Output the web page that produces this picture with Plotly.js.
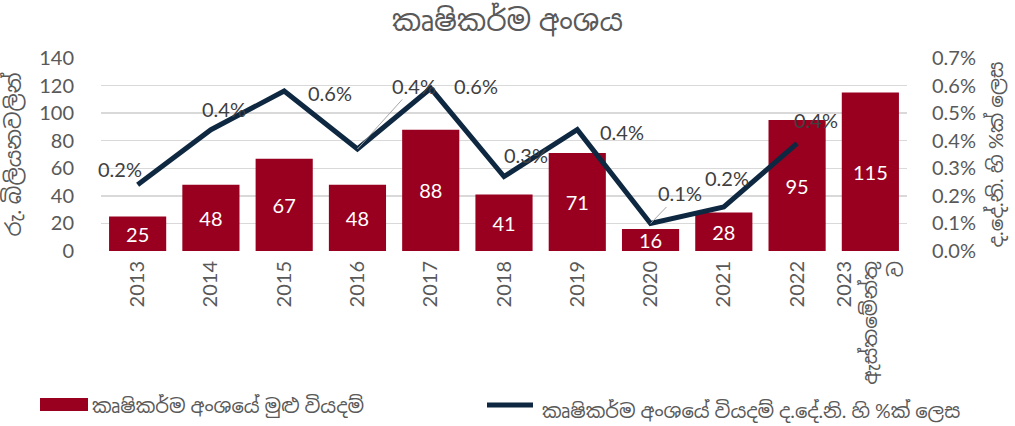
<!DOCTYPE html>
<html>
<head>
<meta charset="utf-8">
<script src="https://cdn.plot.ly/plotly-3.0.1.min.js"></script>
<style>html,body{margin:0;padding:0;background:#fff;}#chart{width:1015px;height:426px;}</style>
</head>
<body>
<div id="chart"></div>
<script>
// ---- data ----
const categories = ['2013','2014','2015','2016','2017','2018','2019','2020','2021','2022','2023<br>ඇස්තමේන්තු<br>ව'];
const spending = [25, 48, 67, 48, 88, 41, 71, 16, 28, 95, 115];           // Rs. billion
const shareOfGDP = [0.0024, 0.0044, 0.0058, 0.0037, 0.0059, 0.0027, 0.0044, 0.0010, 0.0016, 0.0039, null]; // % of GDP
const titleText = 'කෘෂිකර්ම අංශය';
const yTitle = 'රු. බිලියනවලින්';
const y2Title = 'ද.දේ.නි. හි %ක් ලෙස';
const barName = 'කෘෂිකර්ම අංශයේ මුළු වියදම්';
const lineName = 'කෘෂිකර්ම අංශයේ වියදම් ද.දේ.නි. හි %ක් ලෙස';
const yTicks = [0, 20, 40, 60, 80, 100, 120, 140];
const y2Ticks = [0, 0.001, 0.002, 0.003, 0.004, 0.005, 0.006, 0.007];

// ---- styling (label placement offsets in pixels, leader flags) ----
const labelOffsets = [[-18,16],[13,21],[46,-2],[57,63],[45,2],[22,22],[45,-2],[29,30],[3,29],[19,23]];
const leader = [false,false,false,true,false,false,false,true,false,false];

const FONT = 'Lato, "Noto Sans Sinhala", "Noto Sans", "DejaVu Sans", sans-serif';
const GREY = '#595959';
const BAR_COLOR = '#990020';
const LINE_COLOR = '#0E2841';

const M = {l: 101, r: 108, t: 58, b: 175};
const W = 1015, H = 426;
const PW = W - M.l - M.r, PH = H - M.t - M.b;
const px = p => (p - M.l) / PW;          // pixel -> paper x
const py = p => (H - M.b - p) / PH;      // pixel -> paper y

const barTrace = {
  type: 'bar', x: categories, y: spending, name: barName,
  marker: {color: BAR_COLOR},
  text: spending.map(String), textposition: 'inside', insidetextanchor: 'middle',
  constraintext: 'none', textangle: 0,
  textfont: {color: '#ffffff', size: 20, family: FONT},
  hoverinfo: 'skip', showlegend: false
};
const lineTrace = {
  type: 'scatter', mode: 'lines', x: categories, y: shareOfGDP, yaxis: 'y2', name: lineName,
  line: {color: LINE_COLOR, width: 5}, hoverinfo: 'skip', connectgaps: false, showlegend: false
};

const annotations = [];
shareOfGDP.forEach((v, i) => {
  if (v === null) return;
  const txt = (v * 100).toFixed(1) + '%';
  const [dx, dy] = labelOffsets[i];
  const base = {x: i, y: v, xref: 'x', yref: 'y2', text: txt,
                font: {size: 20, color: '#404040', family: FONT}};
  if (leader[i]) {
    annotations.push(Object.assign(base, {showarrow: true, arrowhead: 0, arrowwidth: 1,
      arrowcolor: '#A6A6A6', ax: dx, ay: -dy, standoff: 0}));
  } else {
    annotations.push(Object.assign(base, {showarrow: false, xshift: dx, yshift: dy}));
  }
});

// legend (drawn with shapes + annotations for exact placement)
const legendFont = {size: 19.5, color: GREY, family: FONT};
annotations.push({xref: 'paper', yref: 'paper', x: px(90), y: py(405), xanchor: 'left', yanchor: 'middle',
                  text: barName, showarrow: false, font: legendFont});
annotations.push({xref: 'paper', yref: 'paper', x: px(540), y: py(411), xanchor: 'left', yanchor: 'middle',
                  text: lineName, showarrow: false, font: legendFont});
const shapes = [
  {type: 'rect', xref: 'paper', yref: 'paper', x0: px(40), x1: px(88), y0: py(411), y1: py(398),
   fillcolor: BAR_COLOR, line: {width: 0}},
  {type: 'line', xref: 'paper', yref: 'paper', x0: px(487), x1: px(533), y0: py(405), y1: py(405),
   line: {color: LINE_COLOR, width: 5}}
];

const layout = {
  width: W, height: H,
  margin: Object.assign({autoexpand: false}, M),
  paper_bgcolor: '#ffffff', plot_bgcolor: '#ffffff',
  font: {family: FONT, color: GREY, size: 20},
  title: {text: titleText, x: 0.5, xanchor: 'center', y: 0.95, yanchor: 'middle',
          font: {size: 29, color: GREY, family: FONT}},
  bargap: 0.22,
  showlegend: false,
  xaxis: {type: 'category', range: [-0.5, categories.length - 0.5], autorange: false, automargin: false,
          tickangle: -90, tickfont: {size: 20, color: GREY},
          ticks: 'outside', ticklen: 1, tickcolor: 'rgba(0,0,0,0)',
          showline: false, showgrid: false, fixedrange: true},
  yaxis: {range: [0, 140], tickvals: yTicks, ticktext: yTicks.map(String), automargin: false,
          showgrid: true, gridcolor: '#D9D9D9', gridwidth: 1.5, zeroline: false,
          ticks: 'outside', ticklen: 22, tickcolor: 'rgba(0,0,0,0)',
          tickfont: {size: 20, color: GREY},
          title: {text: yTitle, font: {size: 21.5, color: GREY}, standoff: 14}},
  yaxis2: {range: [0, 0.007], overlaying: 'y', side: 'right', tickvals: y2Ticks, automargin: false,
           ticktext: y2Ticks.map(t => (t * 100).toFixed(1) + '%'),
           showgrid: false, zeroline: false,
           ticks: 'outside', ticklen: 20, tickcolor: 'rgba(0,0,0,0)',
           tickfont: {size: 20, color: GREY},
           title: {text: y2Title, font: {size: 20, color: GREY}, standoff: 14}},
  annotations: annotations,
  shapes: shapes
};

Plotly.newPlot('chart', [barTrace, lineTrace], layout, {staticPlot: true, displayModeBar: false});
</script>
</body>
</html>
